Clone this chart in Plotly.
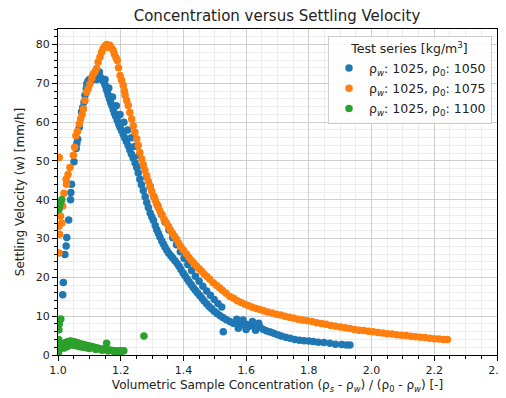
import plotly.graph_objects as go

# ---- data ----
blue_x = [1.015, 1.017, 1.022, 1.026, 1.028, 1.034, 1.040, 1.041, 1.043, 1.051, 1.058, 1.060, 1.063, 1.068,
          1.075, 1.079, 1.083, 1.086, 1.090, 1.092, 1.096, 1.100, 1.104, 1.108, 1.112, 1.116, 1.120, 1.124,
          1.128, 1.132, 1.136, 1.139, 1.143, 1.147, 1.150, 1.154, 1.157, 1.160, 1.164, 1.168, 1.172, 1.176,
          1.180, 1.184, 1.189, 1.194, 1.198, 1.203, 1.208, 1.213, 1.218, 1.224, 1.229, 1.234, 1.240, 1.246,
          1.251, 1.256, 1.261, 1.266, 1.272, 1.278, 1.283, 1.288, 1.294, 1.299, 1.304, 1.310, 1.315, 1.320,
          1.325, 1.331, 1.336, 1.341, 1.347, 1.353, 1.360, 1.366, 1.373, 1.380, 1.386, 1.392, 1.399, 1.405,
          1.412, 1.418, 1.425, 1.431, 1.438, 1.445, 1.452, 1.459, 1.466, 1.474, 1.482, 1.490, 1.498, 1.507,
          1.517, 1.527, 1.537, 1.548, 1.559, 1.570, 1.580, 1.590, 1.600, 1.610, 1.622, 1.633, 1.644, 1.655,
          1.666, 1.677, 1.688, 1.700, 1.712, 1.726, 1.740, 1.755, 1.770, 1.785, 1.800, 1.814, 1.830, 1.848,
          1.867, 1.885, 1.905, 1.920, 1.931, 1.527, 1.570, 1.590, 1.600, 1.620, 1.630, 1.640, 1.575,
          1.150, 1.162, 1.174, 1.186, 1.198, 1.210, 1.222, 1.234, 1.246, 1.258, 1.270, 1.282, 1.294, 1.306,
          1.318, 1.330, 1.342, 1.354, 1.366, 1.378, 1.390, 1.402, 1.414, 1.426, 1.438, 1.450, 1.462, 1.474,
          1.486, 1.498, 1.510, 1.522]
blue_y = [15.5, 18.7, 25.9, 28.1, 30.3, 34.8, 40.0, 41.9, 44.0, 49.8, 53.2, 54.5, 55.6, 58.7,
          62.6, 63.8, 65.2, 66.9, 68.6, 69.9, 70.6, 71.0, 70.6, 71.4, 72.0, 71.2, 72.2, 71.0,
          72.5, 72.9, 71.5, 71.2, 70.8, 70.3, 69.6, 68.6, 67.9, 67.0, 66.0, 65.0, 64.2, 63.2,
          62.3, 61.5, 60.4, 59.4, 58.6, 57.8, 56.8, 55.9, 55.0, 53.9, 52.8, 51.8, 50.7, 49.5,
          48.3, 46.9, 45.3, 43.9, 42.4, 40.8, 39.3, 38.0, 36.6, 35.6, 34.7, 33.4, 32.3, 31.4,
          30.4, 29.4, 28.6, 27.8, 27.0, 26.2, 25.6, 25.0, 24.3, 23.6, 22.9, 22.0, 21.1, 20.4,
          19.6, 18.9, 18.1, 17.4, 16.7, 16.0, 15.3, 14.6, 13.9, 13.2, 12.5, 11.9, 11.3, 10.7,
          10.1, 9.6, 9.1, 8.6, 8.2, 8.0, 8.3, 7.8, 7.9, 7.4, 7.6, 7.1, 7.2, 6.6,
          6.2, 5.9, 5.6, 5.2, 4.9, 4.6, 4.3, 4.0, 3.8, 3.7, 3.6, 3.5, 3.3, 3.2,
          3.0, 2.8, 2.7, 2.6, 2.6, 6.0, 9.2, 9.0, 6.6, 8.6, 6.4, 8.2, 6.9,
          71.0, 68.8, 66.5, 64.2, 62.0, 60.0, 58.0, 56.0, 53.8, 51.4, 48.8, 46.0, 43.4, 40.8,
          38.4, 36.2, 34.2, 32.2, 30.2, 28.4, 26.6, 24.9, 23.3, 21.8, 20.3, 19.0, 17.7, 16.5,
          15.4, 14.3, 13.3, 12.4]

orange_x = [1.004, 1.003, 1.005, 1.003, 1.008, 1.012, 1.015, 1.019, 1.026, 1.027, 1.032, 1.038, 1.049, 1.053,
            1.057, 1.062, 1.068, 1.072, 1.077, 1.081, 1.086, 1.091, 1.096, 1.102, 1.108, 1.113, 1.118, 1.123,
            1.128, 1.134, 1.139, 1.144, 1.150, 1.155, 1.160, 1.165, 1.170, 1.176, 1.180, 1.185, 1.189, 1.193,
            1.198, 1.203, 1.208, 1.212, 1.214, 1.219, 1.224, 1.229, 1.235, 1.240, 1.245, 1.251, 1.256, 1.261,
            1.267, 1.272, 1.277, 1.283, 1.288, 1.294, 1.299, 1.304, 1.310, 1.315, 1.320, 1.325, 1.332, 1.338,
            1.345, 1.352, 1.358, 1.365, 1.371, 1.378, 1.385, 1.392, 1.400, 1.410, 1.418, 1.426, 1.434, 1.442,
            1.450, 1.458, 1.466, 1.475, 1.484, 1.495, 1.505, 1.515, 1.525, 1.536, 1.548, 1.560, 1.572, 1.584,
            1.596, 1.608, 1.620, 1.632, 1.644, 1.656, 1.668, 1.682, 1.696, 1.710, 1.724, 1.738, 1.752, 1.766,
            1.780, 1.795, 1.810, 1.825, 1.840, 1.855, 1.870, 1.885, 1.900, 1.915, 1.930, 1.945, 1.960, 1.975,
            1.990, 2.005, 2.020, 2.035, 2.050, 2.065, 2.080, 2.095, 2.110, 2.125, 2.140, 2.155, 2.170, 2.185,
            2.200, 2.215, 2.230, 2.242]
orange_y = [50.9, 33.2, 31.1, 26.3, 35.8, 34.0, 38.4, 41.7, 45.3, 44.0, 46.5, 48.3, 51.5, 53.5,
            56.5, 57.6, 59.5, 60.8, 62.0, 63.4, 65.6, 67.7, 68.6, 69.9, 71.3, 72.5, 73.0, 73.8,
            75.5, 76.8, 78.0, 79.0, 79.6, 80.0, 79.3, 79.8, 79.2, 78.5, 77.5, 76.6, 75.9, 74.0,
            72.0, 70.8, 69.5, 68.0, 66.9, 65.6, 64.3, 62.5, 60.8, 59.1, 57.4, 55.7, 54.0, 52.2,
            50.5, 49.0, 47.6, 46.2, 44.8, 43.4, 42.2, 41.0, 39.9, 38.9, 38.0, 37.1, 36.1, 35.0,
            34.1, 33.2, 32.3, 31.4, 30.6, 29.8, 28.8, 27.9, 27.0, 26.0, 25.1, 24.3, 23.6, 22.9,
            22.2, 21.6, 20.9, 20.2, 19.5, 18.6, 18.0, 17.3, 16.6, 15.9, 15.1, 14.6, 14.0, 13.5,
            13.1, 12.7, 12.3, 12.0, 11.7, 11.4, 11.1, 10.8, 10.5, 10.3, 10.0, 9.7, 9.5, 9.2,
            9.0, 8.8, 8.6, 8.3, 8.1, 7.9, 7.6, 7.4, 7.2, 7.0, 6.8, 6.6, 6.4, 6.3,
            6.1, 6.0, 5.8, 5.7, 5.5, 5.4, 5.2, 5.1, 5.0, 4.8, 4.7, 4.6, 4.5, 4.3,
            4.2, 4.1, 4.0, 4.0]

green_x = [1.001, 1.002, 1.002, 1.003, 1.004, 1.009, 1.005, 1.008, 1.012, 1.003,
           1.006, 1.010, 1.015, 1.020, 1.025, 1.030, 1.035, 1.040, 1.045, 1.050, 1.055, 1.060, 1.065,
           1.070, 1.075, 1.080, 1.085, 1.090, 1.095, 1.100, 1.105, 1.110, 1.115, 1.120, 1.125, 1.130,
           1.135, 1.140, 1.145, 1.150, 1.155, 1.160, 1.165, 1.170, 1.175, 1.180, 1.185, 1.190, 1.195,
           1.200, 1.205, 1.210,
           1.020, 1.030, 1.040, 1.050, 1.060, 1.070, 1.080, 1.090, 1.100, 1.120, 1.140, 1.160, 1.180, 1.200,
           1.155, 1.274]
green_y = [0.5, 2.0, 4.0, 6.5, 8.0, 9.3, 38.5, 39.4, 40.0, 37.5,
           1.5, 2.3, 2.8, 3.0, 3.2, 3.4, 3.5, 3.6, 3.5, 3.4, 3.3, 3.2, 3.0,
           2.9, 2.8, 2.7, 2.6, 2.5, 2.4, 2.3, 2.2, 2.1, 2.0, 1.9, 1.8, 1.7,
           1.6, 1.5, 1.5, 1.4, 1.3, 1.3, 1.2, 1.2, 1.1, 1.1, 1.0, 1.0, 1.0,
           1.1, 1.0, 1.1,
           1.8, 2.2, 2.6, 2.5, 2.3, 2.1, 2.0, 1.9, 1.7, 1.4, 1.2, 1.0, 0.8, 0.8,
           3.0, 4.9]

series_names = ["ρ<sub><i>w</i></sub>: 1025, ρ<sub>0</sub>: 1050",
                "ρ<sub><i>w</i></sub>: 1025, ρ<sub>0</sub>: 1075",
                "ρ<sub><i>w</i></sub>: 1025, ρ<sub>0</sub>: 1100"]
colors = ["#1f77b4", "#ff7f0e", "#2ca02c"]

x_ticks = [1.0, 1.2, 1.4, 1.6, 1.8, 2.0, 2.2, 2.4]
y_ticks = [0, 10, 20, 30, 40, 50, 60, 70, 80]

fig = go.Figure()
for i, (xs, ys, name, c) in enumerate([(blue_x, blue_y, series_names[0], colors[0]),
                                       (orange_x, orange_y, series_names[1], colors[1]),
                                       (green_x, green_y, series_names[2], colors[2])]):
    fig.add_trace(go.Scatter(x=xs, y=ys, mode="markers", name=name, legendgroup=f"g{i}",
                             marker=dict(color=c, size=7.5, line=dict(width=0))))

font = "DejaVu Sans, sans-serif"
axis_common = dict(
    showline=True, linecolor="black", linewidth=1, mirror=True,
    ticks="outside", ticklen=5, tickcolor="black", tickwidth=1,
    showgrid=True, gridcolor="#cfcfcf", gridwidth=1, zeroline=False,
    tickfont=dict(family=font, size=11, color="#222"),
    automargin=False,
)

# The page body adds an 8 px offset, so the figure is 8 px smaller and margins compensate.
fig.update_layout(
    width=498, height=390,
    margin=dict(l=50, r=9, t=21, b=43, autoexpand=False),
    paper_bgcolor="white", plot_bgcolor="white",
    font=dict(family=font, size=11, color="#222"),
    title=dict(text="Concentration versus Settling Velocity", x=(277 - 8) / 498, xanchor="center",
               y=1 - 8 / 390, yanchor="middle", automargin=False,
               font=dict(family=font, size=15, color="#222")),
    showlegend=True,
    legend=dict(
        x=0.9886, xanchor="right", y=0.978, yanchor="top",
        bgcolor="rgba(255,255,255,0.85)", bordercolor="#cccccc", borderwidth=1,
        font=dict(family=font, size=12.5, color="#222"),
        title=dict(text="Test series [kg/m<sup>3</sup>]", side="top center",
                   font=dict(family=font, size=12.5, color="#222")),
        itemsizing="trace", tracegroupgap=1,
    ),
)

fig.update_xaxes(
    range=[1.0, 2.4], tickvals=x_ticks, ticktext=[f"{v:.1f}" for v in x_ticks],
    minor=dict(dtick=0.05, tick0=1.0, ticks="outside", ticklen=3, tickcolor="black",
               showgrid=True, gridcolor="#ececec", gridwidth=1),
    title=dict(text="Volumetric Sample Concentration (ρ<sub><i>s</i></sub> - ρ<sub><i>w</i></sub>) / (ρ<sub>0</sub> - ρ<sub><i>w</i></sub>) [-]",
               font=dict(family=font, size=12, color="#222"), standoff=4),
    **axis_common,
)
fig.update_yaxes(
    range=[0, 84], tickvals=y_ticks,
    minor=dict(dtick=2, tick0=0, ticks="outside", ticklen=3, tickcolor="black",
               showgrid=True, gridcolor="#ececec", gridwidth=1),
    title=dict(text="Settling Velocity (w) [mm/h]",
               font=dict(family=font, size=12, color="#222"), standoff=8),
    **axis_common,
)

fig.write_html("out.html")
